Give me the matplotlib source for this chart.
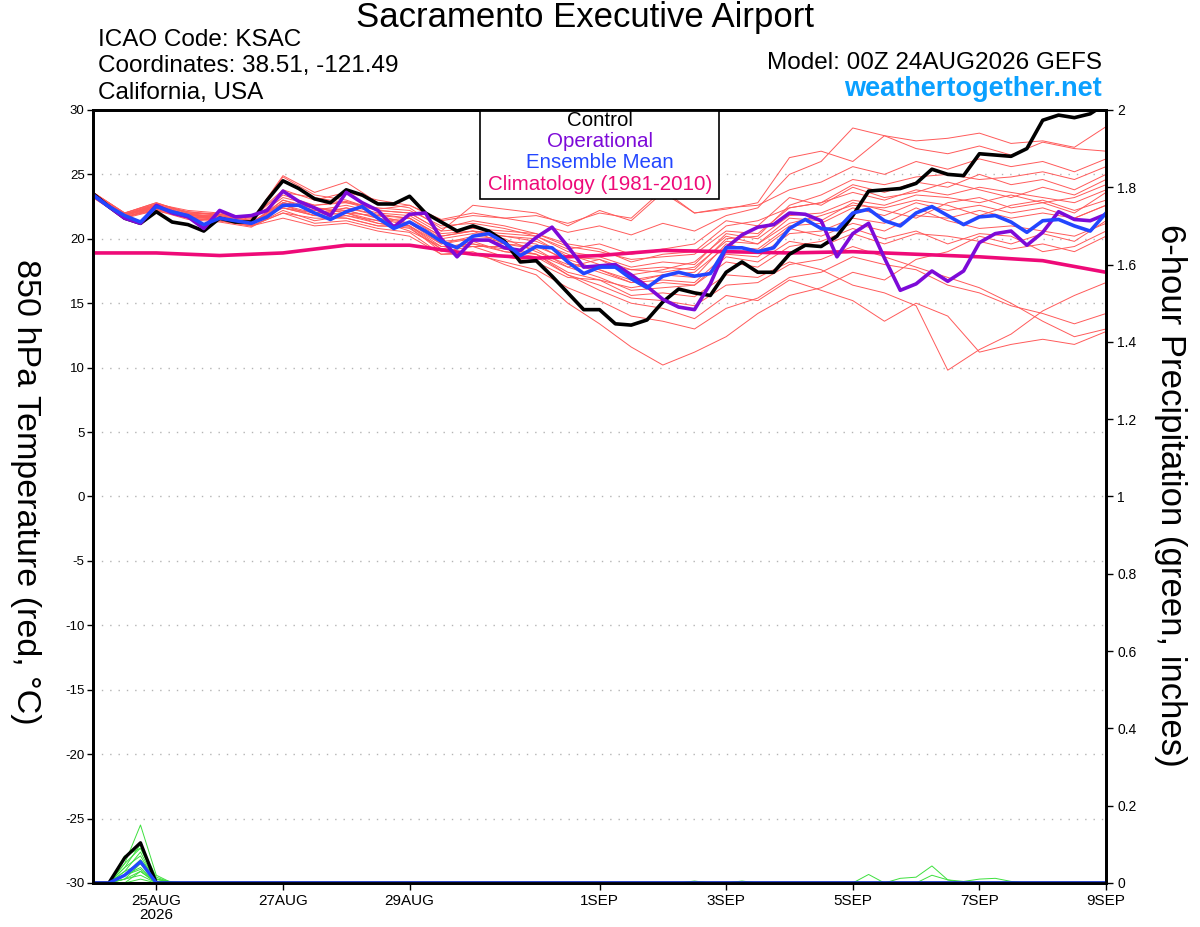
import numpy as np
import matplotlib
matplotlib.use("Agg")
import matplotlib.pyplot as plt
from matplotlib.patches import Rectangle

plt.rcParams['font.family'] = ['Liberation Sans', 'DejaVu Sans']
plt.rcParams['axes.unicode_minus'] = False

# --- data (6-hourly from 00Z 24AUG2026) ---
control = [23.5, 22.5, 21.6, 21.2, 22.1, 21.3, 21.1, 20.6, 21.6, 21.3, 21.3, 23.0, 24.5,
           23.9, 23.1, 22.8, 23.8, 23.4, 22.7, 22.7, 23.3, 22.0, 21.3, 20.6, 21.0, 20.6,
           19.8, 18.2, 18.3, 17.1, 15.8, 14.5, 14.5, 13.4, 13.3, 13.7, 15.1, 16.1, 15.8,
           15.6, 17.4, 18.2, 17.4, 17.4, 18.8, 19.5, 19.4, 20.2, 21.8, 23.7, 23.8, 23.9,
           24.3, 25.4, 25.0, 24.9, 26.6, 26.5, 26.4, 27.0, 29.2, 29.6, 29.4, 29.7, 30.5]
operational = [23.4, 22.5, 21.6, 21.2, 22.6, 22.0, 21.7, 20.8, 22.2, 21.7, 21.8, 22.2, 23.7,
               22.9, 22.4, 21.8, 23.6, 22.8, 22.2, 20.9, 21.9, 22.0, 20.0, 18.6, 19.9, 19.9,
               19.3, 19.1, 20.1, 20.9, 19.4, 17.8, 17.9, 18.0, 17.2, 16.3, 15.3, 14.7, 14.5,
               16.5, 19.3, 20.3, 20.9, 21.1, 22.0, 21.9, 21.4, 18.6, 20.4, 21.2, 18.5, 16.0,
               16.5, 17.5, 16.7, 17.5, 19.7, 20.4, 20.6, 19.5, 20.5, 22.1, 21.5, 21.4, 21.9]
ens_mean = [23.4, 22.5, 21.8, 21.3, 22.5, 22.1, 21.8, 21.1, 21.6, 21.4, 21.2, 21.7, 22.6,
            22.6, 22.0, 21.5, 22.1, 22.5, 21.6, 20.8, 21.3, 20.6, 19.8, 19.3, 20.2, 20.4,
            19.7, 18.7, 19.4, 19.3, 18.2, 17.3, 17.8, 17.8, 16.9, 16.2, 17.1, 17.4, 17.1,
            17.3, 19.3, 19.3, 19.0, 19.3, 20.8, 21.5, 20.8, 20.7, 22.0, 22.3, 21.4, 21.0,
            22.0, 22.5, 21.8, 21.1, 21.7, 21.8, 21.3, 20.5, 21.4, 21.5, 21.0, 20.6, 22.0]

# daily climatology
climatology = [18.9, 18.9, 18.7, 18.9, 19.5, 19.5, 18.8, 18.5, 18.7, 19.1, 19.0, 18.9,
               19.0, 18.8, 18.6, 18.3, 17.4]

# ensemble members, 12-hourly
members = [
    [23.6, 22.0, 22.8, 22.0, 21.9, 21.5, 23.2, 22.6, 22.9, 22.3, 22.6, 21.5, 22.0, 21.6, 21.2, 20.5, 21.0,
     20.3, 21.2, 20.6, 21.8, 22.4, 25.0, 26.0, 28.6, 28.0, 27.6, 27.8, 28.2, 27.4, 27.6, 27.1, 28.7],
    [23.5, 21.9, 22.6, 22.1, 21.8, 21.4, 24.8, 23.4, 23.0, 22.2, 22.0, 20.6, 22.6, 22.3, 22.0, 21.0, 22.2,
     21.4, 23.6, 22.0, 22.3, 22.8, 26.3, 26.8, 26.0, 28.0, 27.0, 26.6, 27.2, 26.5, 27.5, 27.0, 26.8],
    [23.3, 21.7, 22.3, 21.6, 21.4, 21.0, 22.0, 21.2, 21.4, 20.8, 20.5, 18.8, 19.0, 18.0, 17.2, 15.0, 13.4,
     11.6, 10.2, 11.2, 12.4, 14.2, 15.6, 16.2, 17.4, 16.8, 18.4, 19.0, 20.2, 19.6, 20.4, 19.8, 21.4],
    [23.4, 21.8, 22.4, 21.9, 21.5, 21.3, 22.4, 21.8, 21.6, 21.0, 20.9, 19.0, 19.4, 18.6, 18.2, 17.0, 16.8,
     15.6, 15.8, 15.5, 17.2, 17.0, 18.2, 17.6, 16.4, 15.8, 14.8, 9.8, 11.4, 12.6, 14.4, 15.6, 16.6],
    [23.5, 21.9, 22.6, 21.7, 21.5, 21.1, 23.0, 22.4, 22.0, 21.4, 20.6, 19.4, 19.6, 19.0, 18.8, 17.2, 16.0,
     15.0, 14.6, 13.8, 15.6, 15.2, 16.8, 16.0, 15.2, 13.6, 15.0, 14.0, 11.2, 11.8, 12.2, 11.8, 12.8],
    [23.2, 21.6, 22.5, 21.9, 21.8, 21.4, 23.4, 22.6, 22.8, 22.2, 22.0, 20.6, 20.8, 20.6, 20.4, 19.4, 19.0,
     18.4, 18.6, 18.8, 20.6, 20.4, 22.4, 22.8, 23.6, 23.0, 23.8, 23.4, 24.0, 23.6, 23.2, 22.8, 23.8],
    [23.3, 21.7, 22.2, 21.5, 21.3, 20.9, 22.2, 21.4, 21.8, 21.2, 20.8, 19.2, 19.6, 19.2, 18.8, 17.4, 16.8,
     16.2, 16.6, 16.4, 18.6, 18.2, 19.8, 19.4, 20.4, 19.6, 20.4, 20.2, 19.8, 19.2, 19.6, 19.0, 20.2],
    [23.6, 22.0, 22.7, 22.2, 22.0, 21.6, 23.8, 23.0, 23.6, 23.0, 22.6, 21.4, 21.8, 21.6, 21.8, 21.2, 22.0,
     21.6, 23.8, 22.0, 22.4, 22.6, 23.8, 24.4, 25.6, 25.0, 26.0, 25.4, 26.2, 25.6, 26.0, 25.2, 26.2],
    [23.4, 21.8, 22.6, 21.7, 21.6, 21.0, 22.8, 22.2, 21.8, 21.4, 21.6, 20.2, 20.6, 19.6, 19.2, 17.8, 18.4,
     17.2, 17.6, 18.2, 20.2, 19.6, 21.6, 21.4, 22.8, 22.2, 21.6, 22.8, 23.2, 22.4, 22.8, 22.0, 23.6],
    [23.5, 21.9, 22.4, 21.8, 21.7, 21.2, 22.4, 21.8, 22.4, 21.8, 21.2, 19.6, 20.0, 19.8, 19.6, 18.2, 17.4,
     16.6, 16.8, 16.6, 18.8, 18.6, 20.4, 20.6, 21.6, 21.2, 22.4, 21.4, 20.8, 21.0, 20.6, 20.2, 21.2],
    [23.3, 21.7, 22.3, 21.6, 21.4, 21.0, 21.6, 21.0, 21.2, 20.6, 20.2, 18.8, 18.8, 18.2, 17.6, 16.2, 15.2,
     14.0, 13.6, 13.0, 14.6, 15.4, 17.0, 17.4, 18.6, 18.0, 17.6, 16.4, 15.8, 14.8, 14.2, 13.4, 14.2],
    [23.4, 21.8, 22.6, 21.9, 21.6, 21.3, 22.8, 22.4, 22.0, 21.8, 21.6, 20.0, 20.4, 20.2, 20.0, 18.6, 18.4,
     17.6, 17.8, 17.6, 20.0, 20.2, 22.6, 23.4, 24.6, 24.2, 24.8, 25.0, 24.6, 24.8, 25.2, 24.6, 25.6],
    [23.5, 21.9, 22.5, 21.8, 21.8, 21.2, 22.6, 22.0, 22.2, 21.6, 21.0, 19.6, 20.2, 20.0, 19.0, 18.0, 17.6,
     16.6, 17.2, 17.0, 19.6, 19.0, 20.8, 20.2, 21.2, 20.6, 21.8, 21.6, 22.2, 21.6, 22.0, 21.6, 22.6],
    [23.3, 21.7, 22.4, 21.7, 21.5, 21.1, 22.6, 21.8, 22.0, 21.2, 21.0, 19.2, 19.8, 19.0, 18.6, 17.2, 16.4,
     15.4, 15.2, 14.8, 16.4, 16.6, 18.0, 18.4, 19.4, 18.6, 17.8, 17.0, 16.2, 15.0, 13.6, 12.4, 13.0],
    [23.4, 21.8, 22.5, 21.8, 21.7, 21.3, 22.4, 22.0, 22.4, 21.9, 21.6, 20.2, 20.6, 20.4, 20.2, 19.0, 18.6,
     17.8, 18.2, 18.0, 20.4, 20.0, 21.8, 22.0, 23.0, 22.6, 23.4, 23.2, 22.8, 23.4, 22.8, 23.2, 24.2],
    [23.5, 21.9, 22.6, 21.8, 21.6, 21.2, 22.8, 22.4, 22.2, 21.6, 21.2, 19.8, 20.0, 19.6, 19.4, 18.4, 17.6,
     16.8, 17.2, 17.4, 19.4, 19.2, 21.0, 21.2, 22.4, 21.8, 22.8, 22.2, 22.6, 22.0, 22.4, 21.6, 22.6],
    [23.6, 22.0, 22.8, 22.0, 21.9, 21.6, 23.6, 23.2, 22.8, 22.4, 22.2, 21.0, 21.2, 20.8, 20.2, 19.2, 19.6,
     18.8, 19.2, 19.6, 21.4, 21.0, 23.2, 22.6, 24.0, 23.2, 23.6, 24.4, 23.8, 23.2, 24.0, 23.4, 24.6],
    [23.2, 21.6, 22.2, 21.6, 21.4, 21.0, 22.0, 21.6, 21.6, 21.0, 21.0, 19.4, 19.4, 19.4, 18.8, 17.8, 17.0,
     16.0, 16.2, 16.4, 18.2, 17.8, 19.4, 19.8, 20.8, 20.0, 20.6, 19.6, 20.4, 20.2, 19.0, 19.4, 20.6],
    [23.4, 21.8, 22.6, 22.0, 21.6, 21.2, 23.0, 22.2, 22.6, 22.0, 21.8, 20.4, 20.6, 20.2, 19.8, 18.8, 18.0,
     17.6, 17.4, 17.8, 19.8, 19.6, 21.2, 21.8, 22.6, 22.4, 23.0, 22.6, 21.8, 22.6, 23.0, 22.2, 23.0],
    [23.5, 21.9, 22.7, 22.1, 21.9, 21.4, 24.9, 23.6, 24.4, 22.8, 22.4, 20.8, 21.4, 21.0, 20.4, 19.6, 19.2,
     18.2, 18.8, 19.0, 21.0, 21.4, 22.4, 22.8, 24.2, 23.6, 24.4, 24.0, 25.0, 24.2, 24.6, 23.8, 25.0],
]

# 6-hour precipitation (inches): first 6 steps, then steps 36..64 for wet members
precip_early = [
    [0, 0, 0.05, 0.15, 0.02, 0], [0, 0, 0.07, 0.09, 0.01, 0], [0, 0, 0.03, 0.08, 0.0, 0],
    [0, 0, 0.02, 0.06, 0.01, 0], [0, 0, 0.04, 0.07, 0.0, 0], [0, 0, 0.01, 0.05, 0.0, 0],
    [0, 0, 0.02, 0.04, 0.0, 0], [0, 0, 0.0, 0.03, 0.0, 0], [0, 0, 0.01, 0.02, 0.0, 0],
    [0, 0, 0.03, 0.05, 0.005, 0], [0, 0, 0.02, 0.035, 0.0, 0], [0, 0, 0.05, 0.09, 0.01, 0.003],
    [0, 0, 0.0, 0.01, 0.0, 0], [0, 0, 0.01, 0.03, 0.0, 0], [0, 0, 0.02, 0.06, 0.0, 0],
    [0, 0, 0.04, 0.10, 0.015, 0],
]
precip_late = [
    [0, 0, 0.005, 0, 0, 0.005, 0, 0, 0, 0, 0, 0, 0, 0, 0, 0, 0, 0, 0, 0, 0, 0, 0, 0, 0, 0, 0, 0, 0],
    [0, 0, 0, 0, 0, 0, 0, 0, 0, 0, 0, 0, 0, 0.022, 0, 0, 0, 0, 0, 0, 0, 0, 0, 0, 0, 0, 0, 0, 0],
    [0, 0, 0, 0, 0, 0, 0, 0, 0, 0, 0, 0, 0, 0, 0, 0.012, 0.015, 0.044, 0.008, 0, 0, 0, 0, 0, 0, 0, 0, 0, 0],
    [0, 0, 0, 0, 0, 0, 0, 0, 0, 0, 0, 0, 0, 0, 0, 0, 0, 0.02, 0.008, 0.004, 0.01, 0.012, 0.004, 0, 0, 0, 0, 0, 0],
]
precip_control = [0, 0, 0.065, 0.104, 0, 0]
precip_mean = [0, 0, 0.02, 0.055, 0, 0]

tick_dates = ['2026-08-25', '2026-08-27', '2026-08-29', '2026-09-01',
              '2026-09-03', '2026-09-05', '2026-09-07', '2026-09-09']
tick_labels = ['25AUG\n2026', '27AUG', '29AUG', '1SEP', '3SEP', '5SEP', '7SEP', '9SEP']

# --- time axes ---
start = np.datetime64('2026-08-24T00:00')
t6 = start + np.arange(len(control)) * np.timedelta64(6, 'h')
t12 = start + np.arange(len(members[0])) * np.timedelta64(12, 'h')
t24 = start + np.arange(len(climatology)) * np.timedelta64(24, 'h')


def full_precip(early, late=None):
    p = np.zeros(len(control))
    p[:len(early)] = early
    if late is not None:
        p[36:36 + len(late)] = late
    return p


fig = plt.figure(figsize=(12, 9.27), dpi=100)
ax = fig.add_axes([0.0775, 0.0475, 0.8442, 0.8339])
ax2 = ax.twinx()

for m in members:
    ax.plot(t12, m, color='#ff5a5a', lw=0.7, zorder=2)
ax.plot(t24, climatology, color='#ee0a78', lw=2.6, zorder=3)
ax.plot(t6, control, color='black', lw=2.6, zorder=4)
ax.plot(t6, operational, color='#7d0ad8', lw=2.6, zorder=5)
ax.plot(t6, ens_mean, color='#2346ff', lw=2.6, zorder=6)

for i, e in enumerate(precip_early):
    late = precip_late[i] if i < len(precip_late) else None
    ax2.plot(t6, full_precip(e, late), color='#3ee03e', lw=0.7)
ax2.plot(t6, full_precip(precip_control), color='black', lw=2.4)
ax2.plot(t6, full_precip(precip_mean), color='#2346ff', lw=2.4)

ax.set_xlim(start, start + np.timedelta64(16, 'D'))
ax.set_ylim(-30, 30)
ax2.set_ylim(0, 2)
ax.set_yticks(np.arange(-30, 31, 5))
ax.tick_params(axis='y', labelsize=9.5, length=4, width=1, pad=2)
ax2.set_yticks(np.arange(0, 2.01, 0.2))
ax2.set_yticklabels([f"{v:g}" for v in np.round(np.arange(0, 2.01, 0.2), 1)])
ax2.tick_params(axis='y', labelsize=10, length=5, width=1, pad=3)
ax.set_xticks([np.datetime64(d) for d in tick_dates])
ax.set_xticklabels(tick_labels, fontsize=11, linespacing=1.0)
ax.tick_params(axis='x', length=5, width=1, pad=3)

for v in np.arange(-25, 30, 5):
    ax.axhline(v, color='#b4b4b4', lw=1, ls=(0, (1, 5)), zorder=1)

for sp in list(ax.spines.values()) + list(ax2.spines.values()):
    sp.set_linewidth(2)
    sp.set_color('black')

# legend box
ax.add_patch(Rectangle((0.382, 0.885), 0.236, 0.115, transform=ax.transAxes,
                       facecolor='white', edgecolor='black', lw=1.2, zorder=10))
leg = [('Control', 'black', 0.9858), ('Operational', '#7d0ad8', 0.9586),
       ('Ensemble Mean', '#2346ff', 0.9314), ('Climatology (1981-2010)', '#ee0a78', 0.903)]
for txt, col, yy in leg:
    ax.text(0.5005, yy, txt, color=col, fontsize=14.8, ha='center', va='center',
            transform=ax.transAxes, zorder=11)

# titles and labels
fig.text(0.4875, 0.9806, 'Sacramento Executive Airport', fontsize=25, ha='center', va='center')
fig.text(0.0817, 0.9569, 'ICAO Code: KSAC', fontsize=17.5, ha='left', va='center')
fig.text(0.0817, 0.9288, 'Coordinates: 38.51, -121.49', fontsize=17.5, ha='left', va='center')
fig.text(0.0817, 0.8997, 'California, USA', fontsize=17.5, ha='left', va='center')
fig.text(0.9183, 0.932, 'Model: 00Z 24AUG2026 GEFS', fontsize=17.5, ha='right', va='center')
fig.text(0.9183, 0.904, 'weathertogether.net', fontsize=19.5, fontweight='bold',
         color='#0aa0ff', ha='right', va='center')
fig.text(0.021, 0.469, '850 hPa Temperature (red, °C)', fontsize=24.5,
         rotation=270, ha='center', va='center')
fig.text(0.975, 0.466, '6-hour Precipitation (green, inches)', fontsize=25,
         rotation=270, ha='center', va='center')

fig.savefig('out.png', dpi=100)
